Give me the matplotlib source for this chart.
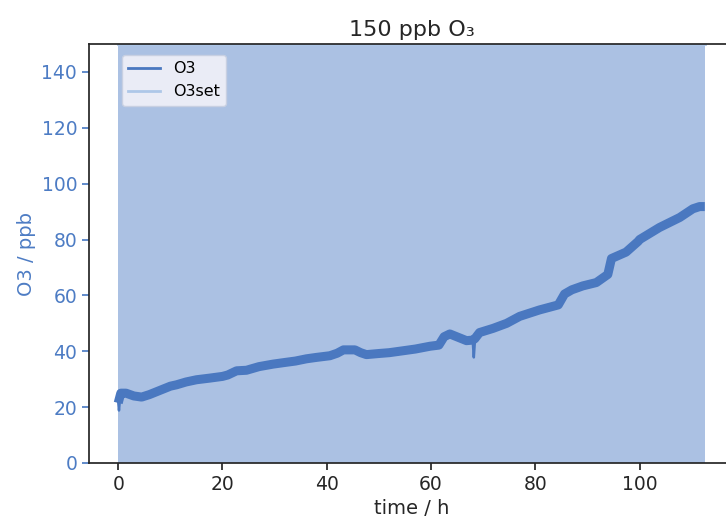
import matplotlib
matplotlib.use("Agg")
import matplotlib.pyplot as plt

time_h = [0.0, 0.5, 1.5, 3.0, 4.5, 6.0, 8.0, 10.0, 11.2, 13.0, 15.0, 17.6, 20.0, 21.0,
          22.7, 24.6, 27.0, 29.7, 32.0, 34.0, 36.1, 38.0, 40.6, 42.0, 43.2, 45.4, 46.5,
          47.6, 50.0, 52.0, 54.7, 57.0, 59.8, 61.5, 62.5, 63.6, 65.2, 66.8, 68.0,
          68.4, 69.3, 71.9, 74.5, 77.0, 80.8, 84.4, 85.6, 87.0, 89.1, 91.7, 93.9, 94.6,
          97.4, 99.7, 100.0, 103.8, 107.7, 110.2, 111.5, 112.5]
o3 = [21.5, 25.0, 25.0, 24.0, 23.6, 24.5, 26.0, 27.5, 28.0, 29.0, 29.8, 30.4, 31.0, 31.5,
      33.0, 33.2, 34.5, 35.4, 36.0, 36.5, 37.3, 37.8, 38.4, 39.3, 40.5, 40.5, 39.5,
      38.8, 39.2, 39.5, 40.2, 40.8, 41.8, 42.2, 45.2, 46.2, 45.0, 43.8, 44.0,
      44.5, 46.7, 48.2, 50.0, 52.5, 54.8, 56.6, 60.5, 62.0, 63.4, 64.6, 67.5, 73.2,
      75.5, 79.3, 80.0, 84.3, 87.9, 91.0, 91.8, 91.8]

# short downward spikes in the O3 trace
spike_time = [[0.0, 0.15, 0.4], [68.0, 68.2, 68.4]]
spike_o3 = [[22.0, 18.8, 24.0], [43.5, 37.8, 43.5]]

# O3 set point
set_time = [0.0, 112.5]
o3_set = [150, 150]

line_color = "#4a78c0"
set_color = "#aec7e8"
fill_color = "#abc1e3"
tick_color = "#4d7cc4"

fig = plt.figure(figsize=(7.26, 5.22), dpi=100)
ax = fig.add_axes([89/726, 59/522, 645/726, 419/522])

ax.fill_between(set_time, 0, o3_set, color=fill_color, linewidth=0, zorder=1)
ax.plot(set_time, o3_set, color=set_color, lw=2, label="O3set", zorder=2)
ax.plot(time_h, o3, color=line_color, lw=6.5, zorder=3, solid_joinstyle="round",
        solid_capstyle="butt")
for st, sv in zip(spike_time, spike_o3):
    ax.plot(st, sv, color=line_color, lw=1.8, zorder=3)
ax.plot([], [], color=line_color, lw=2, label="O3")

ax.set_ylim(0, 150)
ax.set_xlim(-5.6, 118.1)
ax.set_xticks([0, 20, 40, 60, 80, 100])
ax.set_yticks([0, 20, 40, 60, 80, 100, 120, 140])

for s in ["top", "bottom", "left", "right"]:
    ax.spines[s].set_color("#262626")
    ax.spines[s].set_linewidth(1.25)

ax.tick_params(axis="y", colors=tick_color, labelsize=13.5, length=5, width=1.25)
ax.tick_params(axis="x", colors="#262626", labelsize=13.5, length=5, width=1.25)
ax.spines["left"].set_color("#262626")

ax.set_xlabel("time / h", fontsize=14, color="#262626")
ax.set_ylabel("O3 / ppb", fontsize=14, color=tick_color)
ax.set_title("150 ppb O₃", fontsize=16, color="#262626")

handles, labels = ax.get_legend_handles_labels()
order = [labels.index("O3"), labels.index("O3set")]
leg = ax.legend([handles[i] for i in order], [labels[i] for i in order],
                loc="upper left", bbox_to_anchor=(33/645, 1 - 11/419),
                borderaxespad=0, fontsize=11.5, facecolor="#eaecf6", edgecolor="#c8d0e2",
                framealpha=1, fancybox=True)

fig.savefig("out.png", dpi=100)
